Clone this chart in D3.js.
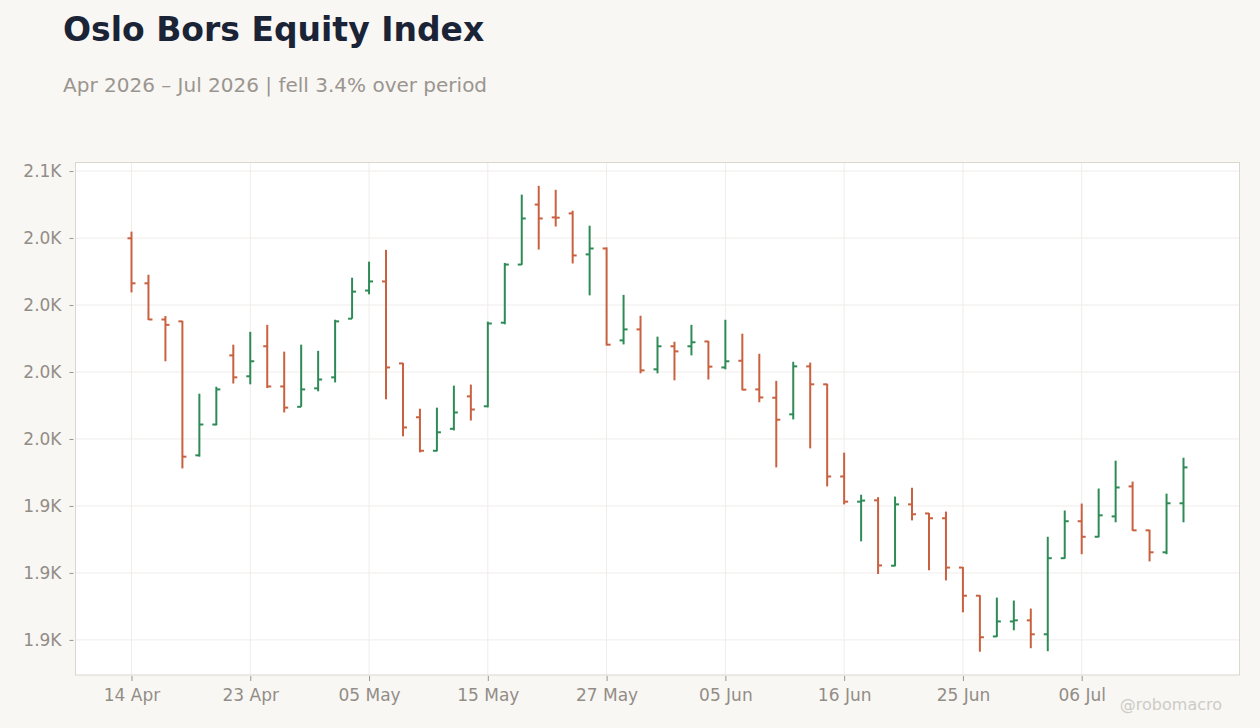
<!DOCTYPE html>
<html>
<head>
<meta charset="utf-8">
<script src="https://cdn.jsdelivr.net/npm/d3@7"></script>
<style>
  body{margin:0;background:#f8f7f4;}
  svg{display:block;font-family:"DejaVu Sans",sans-serif;}
</style>
</head>
<body>
<svg width="1260" height="728"></svg>
<script>
// trading days (Oslo Bors calendar, holidays skipped)
var dates=["2026-04-14","2026-04-15","2026-04-16","2026-04-17","2026-04-20","2026-04-21","2026-04-22","2026-04-23","2026-04-24","2026-04-27","2026-04-28","2026-04-29","2026-04-30",
  "2026-05-04","2026-05-05","2026-05-06","2026-05-07","2026-05-08","2026-05-11","2026-05-12","2026-05-13","2026-05-15","2026-05-18","2026-05-19","2026-05-20","2026-05-21","2026-05-22","2026-05-26","2026-05-27","2026-05-28","2026-05-29",
  "2026-06-01","2026-06-02","2026-06-03","2026-06-04","2026-06-05","2026-06-08","2026-06-09","2026-06-10","2026-06-11","2026-06-12","2026-06-15","2026-06-16","2026-06-17","2026-06-18","2026-06-19","2026-06-22","2026-06-23","2026-06-24","2026-06-25","2026-06-26","2026-06-29","2026-06-30",
  "2026-07-01","2026-07-02","2026-07-03","2026-07-06","2026-07-07","2026-07-08","2026-07-09","2026-07-10","2026-07-13","2026-07-14"];

var open=[2024.9,2008.1,1994.6,1993.9,1943.9,1955.4,1981.2,1973.4,1984.6,1969.6,1962.0,1968.9,1973.0,1994.9,2005.4,2008.8,1978.2,1958.1,1945.6,1953.8,1965.9,1962.2,1993.4,2015.1,2037.5,2032.7,2034.2,2018.9,2021.1,1986.8,1990.9,1976.0,1984.6,1984.6,1986.4,1976.7,1979.2,1968.5,1965.4,1959.2,1977.1,1970.4,1936.0,1926.6,1927.1,1902.7,1925.6,1922.2,1920.4,1902.0,1891.5,1876.3,1881.9,1882.3,1877.1,1905.5,1919.3,1913.5,1921.1,1932.3,1915.9,1907.7,1926.0];
var high=[2027.4,2011.3,1995.9,1994.1,1966.9,1969.5,1985.2,1990.0,1992.6,1982.6,1985.2,1982.9,1994.5,2010.2,2016.2,2020.6,1978.4,1961.3,1961.7,1969.9,1970.3,1993.8,2015.7,2041.2,2044.5,2043.0,2035.2,2029.6,2021.5,2003.8,1996.0,1988.2,1986.3,1992.6,1986.6,1994.5,1989.3,1981.8,1971.7,1978.8,1978.5,1970.6,1944.9,1929.2,1928.3,1928.5,1931.8,1922.4,1922.9,1902.2,1891.7,1890.8,1889.7,1886.7,1913.5,1923.3,1925.9,1931.5,1941.9,1934.1,1916.1,1929.6,1943.0];
var low=[2004.7,1994.4,1979.0,1939.0,1943.4,1955.1,1970.7,1970.4,1969.0,1959.9,1962.0,1967.8,1971.1,1994.9,2004.0,1964.8,1951.0,1945.0,1945.4,1953.2,1956.9,1961.8,1992.8,2015.0,2020.7,2029.3,2015.5,2003.6,1984.9,1985.3,1974.5,1974.5,1971.9,1981.2,1972.2,1976.0,1968.2,1963.7,1939.4,1957.3,1946.5,1932.3,1925.6,1911.8,1899.6,1902.5,1919.6,1901.0,1897.2,1885.3,1870.6,1876.1,1878.6,1871.9,1870.8,1905.3,1907.0,1913.3,1918.9,1915.7,1904.3,1907.0,1918.9];
var close=[2008.1,1994.6,1992.6,1943.4,1955.4,1968.5,1973.0,1979.0,1969.6,1961.7,1968.5,1972.2,1993.9,2005.0,2008.8,1976.7,1954.3,1945.6,1952.5,1959.9,1961.0,1993.1,2015.1,2032.3,2032.3,2032.6,2018.5,2021.1,1985.2,1990.9,1975.6,1984.6,1982.7,1986.1,1977.0,1979.0,1968.4,1965.5,1957.2,1977.1,1970.4,1936.0,1926.6,1927.0,1902.8,1925.6,1921.9,1920.4,1902.0,1891.5,1876.0,1881.9,1882.3,1877.1,1905.5,1919.3,1913.5,1921.5,1931.9,1915.9,1907.7,1926.0,1939.4];

var yTicks=[1875,1900,1925,1950,1975,2000,2025,2050];

var drawChart=function(){
  let svg=d3.select('svg');
  let W=1260,H=728;
  let margin={top:162.5,bottom:53,left:75.5,right:20.5};
  let plotWidth=W-margin.left-margin.right;
  let plotHeight=H-margin.top-margin.bottom;
  let parse=d3.timeParse("%Y-%m-%d");

  let rows=dates.map(function(d,i){
    return {date:parse(d),key:d,o:open[i],h:high[i],l:low[i],c:close[i]};
  });

  svg.append('rect').attr('width',W).attr('height',H).attr('fill','#f8f7f4');

  // title + subtitle
  svg.append('text').text('Oslo Bors Equity Index')
    .attr('x',63).attr('y',41)
    .attr('font-size',33).attr('font-weight','bold').attr('fill','#1b2436');
  let chg=(close[close.length-1]-close[0])/close[0]*100;
  svg.append('text')
    .text('Apr 2026 \u2013 Jul 2026 | '+(chg<0?'fell ':'rose ')+Math.abs(chg).toFixed(1)+'% over period')
    .attr('x',63).attr('y',92)
    .attr('font-size',20).attr('fill','#9b958f');

  let x=d3.scalePoint()
    .domain(rows.map(function(d){return d.key;}))
    .range([0,plotWidth])
    .padding(3.3);
  let lo=d3.min(low),hi=d3.max(high),pad=(hi-lo)*0.05;
  let y=d3.scaleLinear()
    .domain([lo-pad,hi+pad])
    .range([plotHeight,0]);

  let plot=svg.append('g').attr('id','plot')
    .attr('transform','translate('+margin.left+','+margin.top+')');

  plot.append('rect')
    .attr('width',plotWidth).attr('height',plotHeight)
    .attr('fill','#ffffff');

  let xTickKeys=rows.filter(function(d,i){return i%7===0;}).map(function(d){return d.key;});
  let fmtDate=d3.timeFormat("%d %b");

  // grid
  plot.append('g').selectAll('line.hgrid').data(yTicks).enter().append('line')
    .attr('x1',0).attr('x2',plotWidth)
    .attr('y1',function(d){return y(d);}).attr('y2',function(d){return y(d);})
    .attr('stroke','#efedea').attr('stroke-width',1);
  plot.append('g').selectAll('line.vgrid').data(xTickKeys).enter().append('line')
    .attr('y1',0).attr('y2',plotHeight)
    .attr('x1',function(d){return x(d);}).attr('x2',function(d){return x(d);})
    .attr('stroke','#efedea').attr('stroke-width',1);

  plot.append('rect')
    .attr('width',plotWidth).attr('height',plotHeight)
    .attr('fill','none').attr('stroke','#dcd6cc').attr('stroke-width',1);

  // axes
  let fmtY=d3.format(".2s");
  let yAxis=d3.axisLeft(y).tickValues(yTicks).tickSize(4).tickPadding(8)
    .tickFormat(function(d){return fmtY(d).replace('k','K');});
  let yGroup=plot.append('g').attr('id','y-axis')
    .attr('transform','translate(-2,0)').call(yAxis);
  let xAxis=d3.axisBottom(x).tickValues(xTickKeys).tickSize(5).tickPadding(8)
    .tickFormat(function(d){return fmtDate(parse(d));});
  let xGroup=plot.append('g').attr('id','x-axis')
    .attr('transform','translate(0,'+(plotHeight+1)+')').call(xAxis);
  [yGroup,xGroup].forEach(function(g){
    g.select('.domain').remove();
    g.selectAll('line').attr('stroke','#9b958f');
    g.selectAll('text').attr('fill','#938d87').attr('font-size',17)
      .attr('font-family','"DejaVu Sans",sans-serif');
  });

  // OHLC bars
  let color=function(d){return d.c>=d.o?'#2e8b57':'#c9603f';};
  let bars=plot.selectAll('g.ohlc').data(rows).enter().append('g').attr('class','ohlc')
    .attr('stroke',color).attr('stroke-width',2);
  bars.append('line')
    .attr('x1',function(d){return x(d.key);}).attr('x2',function(d){return x(d.key);})
    .attr('y1',function(d){return y(d.h);}).attr('y2',function(d){return y(d.l);});
  bars.append('line')
    .attr('x1',function(d){return x(d.key)-4;}).attr('x2',function(d){return x(d.key);})
    .attr('y1',function(d){return y(d.o);}).attr('y2',function(d){return y(d.o);});
  bars.append('line')
    .attr('x1',function(d){return x(d.key);}).attr('x2',function(d){return x(d.key)+4;})
    .attr('y1',function(d){return y(d.c);}).attr('y2',function(d){return y(d.c);});

  svg.append('text').text('@robomacro')
    .attr('x',1222).attr('y',710).attr('text-anchor','end')
    .attr('font-size',16).attr('fill','#cfcbc6');
};

drawChart();
</script>
</body>
</html>
